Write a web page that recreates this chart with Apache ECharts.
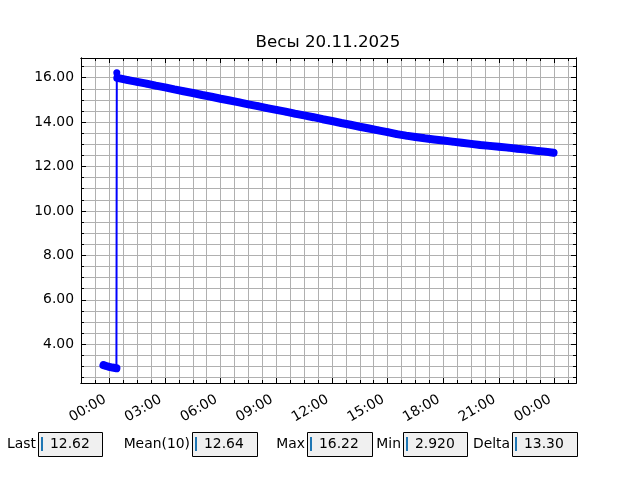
<!DOCTYPE html>
<html><head><meta charset="utf-8">
<script src="https://cdn.jsdelivr.net/npm/echarts@6/dist/echarts.min.js"></script>
<style>html,body{margin:0;padding:0;background:#fff}#c{width:640px;height:480px}</style>
</head><body><div id="c"></div>
<script>
const chartTitle = 'Весы 20.11.2025';
// hours relative to 20.11.2025 00:00
const lowHours   = [-0.32, -0.17, 0.00, 0.17, 0.38];
const lowWeights = [3.06, 3.02, 2.98, 2.95, 2.92];
const spikeHour = 0.40;
const spikeWeight = 16.22;
const mainHours = [0.43, 1.0, 1.5, 2.0, 2.5, 3.0, 3.5, 4.0, 4.5, 5.0, 5.5, 6.0, 6.5, 7.0, 7.5, 8.0, 8.5, 9.0, 9.5, 10.0,
  10.5, 11.0, 11.5, 12.0, 12.5, 13.0, 13.5, 14.0, 14.5, 15.0, 15.5, 16.0, 16.5, 17.0, 17.5, 18.0, 18.5, 19.0, 19.5,
  20.0, 20.5, 21.0, 21.5, 22.0, 22.5, 23.0, 23.5, 23.95];
const mainWeights = [15.99, 15.89, 15.81, 15.73, 15.64, 15.56, 15.47, 15.39, 15.31, 15.22, 15.14, 15.05, 14.97, 14.89,
  14.80, 14.72, 14.63, 14.55, 14.47, 14.38, 14.30, 14.22, 14.13, 14.05, 13.96, 13.88, 13.79, 13.71, 13.63, 13.55,
  13.46, 13.39, 13.33, 13.27, 13.22, 13.17, 13.12, 13.07, 13.02, 12.97, 12.93, 12.89, 12.85, 12.80, 12.76, 12.71,
  12.67, 12.62];
const xTickLabels = ['00:00', '03:00', '06:00', '09:00', '12:00', '15:00', '18:00', '21:00', '00:00'];
const yTickLabels = ['4.00', '6.00', '8.00', '10.00', '12.00', '14.00', '16.00'];
const statNames  = ['Last', 'Mean(10)', 'Max', 'Min', 'Delta'];
const statValues = ['12.62', '12.64', '16.22', '2.920', '13.30'];

const FONT = 'DejaVu Sans';
const xMin = -1.53, xMax = 25.16, yMin = 2.255, yMax = 16.885;
const xMajorStep = 3, xMinorStep = 0.75, yMajorStep = 2, yMinorStep = 0.5;

function steps(lo, hi, step) {
  const out = [];
  for (let k = Math.ceil(lo / step - 1e-9); k * step <= hi + 1e-9; k++) out.push(+(k * step).toFixed(4));
  return out;
}
const xMajor = steps(xMin, xMax, xMajorStep).filter(v => v > xMin && v < xMax);
const xMinor = steps(xMin, xMax, xMinorStep).filter(v => v > xMin && v < xMax);
const yMajor = steps(yMin, yMax, yMajorStep).filter(v => v > yMin && v < yMax);
const yMinor = steps(yMin, yMax, yMinorStep).filter(v => v > yMin && v < yMax);

const lowPts = lowHours.map((h, i) => [h, lowWeights[i]]);
const mainPts = mainHours.map((h, i) => [h, mainWeights[i]]);
const allPts = lowPts.concat([[spikeHour, spikeWeight]], mainPts);
const bandPts = lowPts.concat([[null, null]], mainPts);

const gridCol = '#b0b0b0';
function axis(kind, pos, ticks, tickLen, grid, labels) {
  const isX = kind === 'x';
  const a = {
    type: 'value', position: pos,
    min: isX ? xMin : yMin, max: isX ? xMax : yMax,
    axisLine: { show: true, onZero: false, lineStyle: { color: '#000', width: 1 } },
    axisTick: { show: true, inside: true, length: tickLen, customValues: ticks, lineStyle: { color: '#000', width: 1 } },
    splitLine: { show: grid, lineStyle: { color: gridCol, width: 1 } },
    axisLabel: { show: false }
  };
  if (labels) {
    a.axisLabel = {
      show: true, customValues: ticks, color: '#000', fontFamily: FONT, fontSize: 13.9,
      margin: isX ? 13 : 7, rotate: isX ? 30 : 0,
      padding: isX ? [0, 5, 0, 0] : 0,
      formatter: v => {
        const i = ticks.findIndex(t => Math.abs(t - v) < 1e-6);
        return i >= 0 ? labels[i] : '';
      }
    };
  }
  return a;
}

const graphics = [];
const boxes = [[38, 102], [192, 257], [307, 372], [403, 467], [512, 577]];
statNames.forEach((name, i) => {
  const [l, r] = boxes[i];
  graphics.push({ type: 'text', style: { text: name, x: l - 2, y: 444, textAlign: 'right', textVerticalAlign: 'middle', font: '13.9px "DejaVu Sans"', fill: '#000' } });
  graphics.push({ type: 'rect', shape: { x: l + 0.5, y: 432.5, width: r - l, height: 24 }, style: { fill: '#f0f0f0', stroke: '#000', lineWidth: 1 } });
  graphics.push({ type: 'rect', shape: { x: l + 3, y: 437, width: 2, height: 14 }, style: { fill: '#1f77b4' } });
  graphics.push({ type: 'text', style: { text: statValues[i], x: l + 12, y: 444, textAlign: 'left', textVerticalAlign: 'middle', font: '13.9px "DejaVu Sans"', fill: '#000' } });
});

const chart = echarts.init(document.getElementById('c'), null, { renderer: 'canvas' });
chart.setOption({
  backgroundColor: '#fff',
  animation: false,
  title: { text: chartTitle, left: 328, top: 34, textAlign: 'center', padding: 0,
    textStyle: { fontFamily: FONT, fontSize: 16.7, fontWeight: 'normal', color: '#000' } },
  grid: { left: 81, right: 64, top: 58, bottom: 97, containLabel: false },
  xAxis: [
    axis('x', 'bottom', xMajor, 5, true, xTickLabels),
    axis('x', 'bottom', xMinor, 3, true, null),
    axis('x', 'top', xMajor, 5, false, null),
    axis('x', 'top', xMinor, 3, false, null)
  ],
  yAxis: [
    axis('y', 'left', yMajor, 5, true, yTickLabels),
    axis('y', 'left', yMinor, 3, true, null),
    axis('y', 'right', yMajor, 5, false, null),
    axis('y', 'right', yMinor, 3, false, null)
  ],
  series: [
    { type: 'line', data: bandPts, showSymbol: false, connectNulls: false, silent: true,
      lineStyle: { color: '#0000ff', width: 8, cap: 'round', join: 'round' }, z: 3 },
    { type: 'line', data: allPts, symbol: 'circle', symbolSize: 7, showSymbol: true, showAllSymbol: true, silent: true,
      itemStyle: { color: '#0000ff' }, lineStyle: { color: '#0000ff', width: 2 }, z: 4 }
  ],
  graphic: graphics
});
</script></body></html>
